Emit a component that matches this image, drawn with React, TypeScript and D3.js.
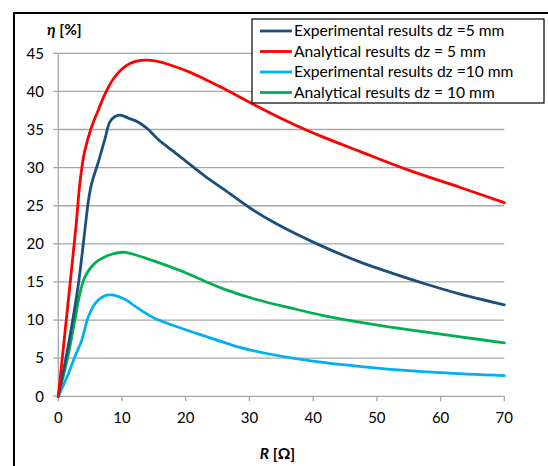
import React from "react";
import * as d3 from "d3";

const expR5 = [0, 1.6, 3.1, 4.2, 4.7, 5.2, 6.3, 7.3, 8.1, 8.9, 9.7, 11, 12.5, 14, 15.7, 17.8, 20.4, 23, 25.9, 30.1, 34.3, 40.6, 47.4, 52.6, 57.8, 63.1, 70];
const expEta5 = [0, 6.8, 14.4, 22, 25.5, 27.8, 30.8, 33.7, 36, 36.7, 36.9, 36.5, 36.0, 35.1, 33.7, 32.3, 30.6, 28.9, 27.2, 24.7, 22.6, 20.0, 17.6, 16.1, 14.7, 13.4, 12.0];

const anaR5 = [0, 1, 2, 2.8, 3.3, 3.7, 4.1, 5.2, 6.3, 7.3, 8.6, 10.5, 12, 13.5, 15.2, 17.8, 20.7, 23, 25.9, 31.1, 36.4, 41.6, 47.4, 55.2, 63.1, 70];
const anaEta5 = [0, 8, 16, 22.5, 27.3, 30, 32, 35.3, 37.6, 39.6, 41.6, 43.3, 43.9, 44.1, 44.0, 43.4, 42.5, 41.6, 40.4, 38.1, 35.9, 34.0, 32.1, 29.6, 27.4, 25.4];

const expR10 = [0, 1.6, 2.6, 3.7, 4.7, 5.8, 7.3, 8.4, 10.5, 12.6, 15.2, 19.4, 23, 25.9, 30, 40, 50, 60, 70];
const expEta10 = [0, 3, 5.2, 7.4, 10.4, 12.2, 13.2, 13.3, 12.7, 11.5, 10.2, 8.9, 7.9, 7.1, 6.1, 4.6, 3.7, 3.1, 2.7];

const anaR10 = [0, 1.6, 2.6, 3.4, 4.2, 5.8, 7.9, 10, 11, 15.2, 19.4, 23, 25.9, 31.1, 36.4, 41.6, 48.9, 55.2, 63.1, 70];
const anaEta10 = [0, 5.6, 10, 13.5, 15.7, 17.5, 18.5, 18.9, 18.8, 17.7, 16.4, 15.1, 14.1, 12.7, 11.6, 10.6, 9.5, 8.7, 7.8, 7.0];

const seriesNames = [
  "Experimental results dz =5 mm",
  "Analytical results dz = 5 mm",
  "Experimental results dz =10 mm",
  "Analytical results dz = 10 mm",
];
const seriesColors = ["#1B4F7E", "#FF0000", "#00B0F0", "#00B050"];

const xTicks = [0, 10, 20, 30, 40, 50, 60, 70];
const yTicks = [0, 5, 10, 15, 20, 25, 30, 35, 40, 45];

const FONT = "Lato, 'Open Sans', sans-serif";

export default function App() {
  const W = 548, H = 466;
  const x = d3.scaleLinear().domain([0, 70]).range([58.3, 504.3]);
  const y = d3.scaleLinear().domain([0, 45]).range([396.3, 53.3]);

  const series = [
    { r: expR5, e: expEta5 },
    { r: anaR5, e: anaEta5 },
    { r: expR10, e: expEta10 },
    { r: anaR10, e: anaEta10 },
  ];
  const line = d3
    .line<[number, number]>()
    .x((d) => x(d[0]))
    .y((d) => y(d[1]))
    .curve(d3.curveCatmullRom.alpha(0.5));

  const order = [3, 2, 0, 1];

  const legX = 252, legY = 19, legW = 292, legH = 84;
  const rowY = [31, 51.5, 72, 92.5];

  return (
    <svg
      width={W}
      height={H}
      style={{ position: "absolute", left: 0, top: 0, background: "#fff" }}
      fontFamily={FONT}
    >
      <rect x={0} y={0} width={W} height={H} fill="#fff" />
      <rect x={14} y={13} width={700} height={600} fill="none" stroke="#000" strokeWidth={2} />

      {yTicks.filter((t) => t > 0).map((t) => (
        <line key={"g" + t} x1={x(0)} x2={x(70)} y1={y(t)} y2={y(t)} stroke="#A6A6A6" strokeWidth={1.3} />
      ))}
      <line x1={x(0)} x2={x(0)} y1={y(0)} y2={y(45)} stroke="#A6A6A6" strokeWidth={1.3} />
      <line x1={x(0)} x2={x(70)} y1={y(0)} y2={y(0)} stroke="#A6A6A6" strokeWidth={1.3} />
      {yTicks.map((t) => (
        <g key={"yt" + t}>
          <line x1={x(0) - 5} x2={x(0)} y1={y(t)} y2={y(t)} stroke="#A6A6A6" strokeWidth={1.3} />
          <text x={44} y={y(t)} dy="0.35em" textAnchor="end" fontSize={15} fill="#000">
            {t}
          </text>
        </g>
      ))}
      {xTicks.map((t) => (
        <g key={"xt" + t}>
          <line x1={x(t)} x2={x(t)} y1={y(0)} y2={y(0) + 5} stroke="#A6A6A6" strokeWidth={1.3} />
          <text x={x(t)} y={423} textAnchor="middle" fontSize={15} fill="#000">
            {t}
          </text>
        </g>
      ))}

      {order.map((i) => {
        const pts: [number, number][] = series[i].r.map((r, k) => [r, series[i].e[k]]);
        return (
          <path key={"s" + i} d={line(pts) || ""} fill="none" stroke={seriesColors[i]} strokeWidth={2.8} strokeLinejoin="round" strokeLinecap="round" />
        );
      })}

      <text x={47} y={35} fontSize={15.5} fontWeight="bold" fill="#000">
        <tspan fontStyle="italic">η</tspan> [%]
      </text>
      <text x={277.5} y={459} textAnchor="middle" fontSize={15.5} fontWeight="bold" fill="#000">
        <tspan fontStyle="italic">R</tspan> [Ω]
      </text>

      <rect x={legX} y={legY} width={legW} height={legH} fill="#fff" stroke="#000" strokeWidth={1.2} />
      {seriesNames.map((n, i) => (
        <g key={"l" + i}>
          <line x1={260} x2={292} y1={rowY[i]} y2={rowY[i]} stroke={seriesColors[i]} strokeWidth={2.8} />
          <text x={294} y={rowY[i]} dy="0.35em" fontSize={15.6} fill="#000">
            {n}
          </text>
        </g>
      ))}
    </svg>
  );
}
